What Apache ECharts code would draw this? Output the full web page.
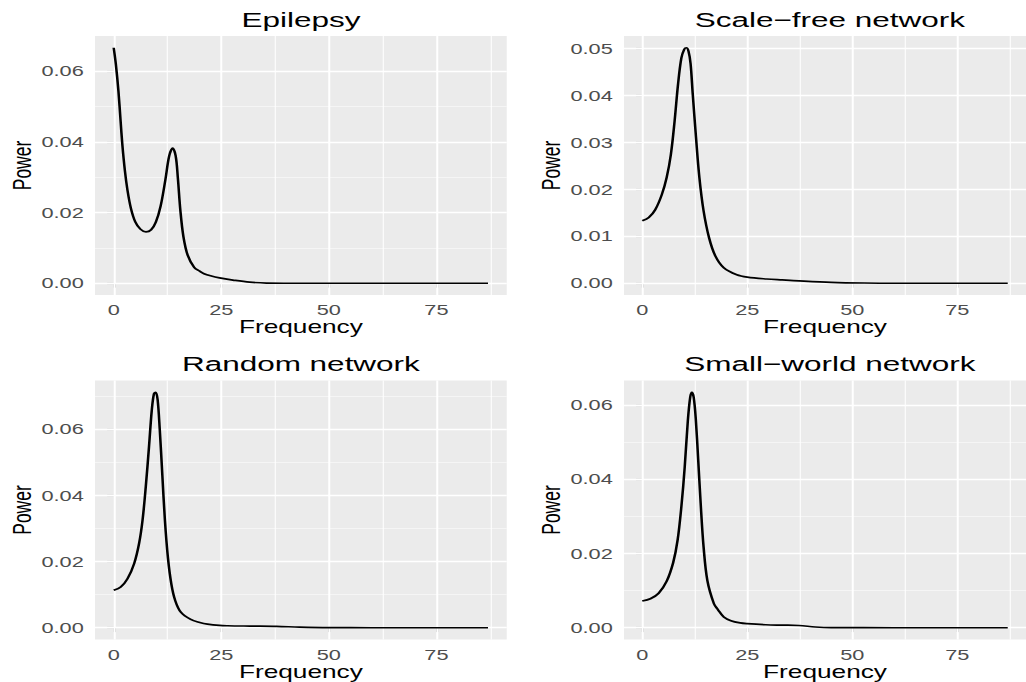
<!DOCTYPE html>
<html><head><meta charset="utf-8">
<script src="https://cdn.jsdelivr.net/npm/echarts@6/dist/echarts.min.js"></script>
<style>
html,body{margin:0;padding:0;overflow:hidden;background:#fff;width:1026px;height:682px}
#wrap{width:1026px;height:682px;overflow:hidden;position:relative}
#chart{width:684px;height:682px;transform:scaleX(1.5);transform-origin:0 0;position:absolute;left:0;top:0}
</style></head><body><div id="wrap"><div id="chart"></div></div>
<script>
// ---- data ----
const panelTitles = ['Epilepsy', 'Scale\u2212free network', 'Random network', 'Small\u2212world network'];

const epilepsyFreq  = [0, 0.5, 1.1, 1.6, 2.0, 2.6, 3.2, 4.0, 5.0, 6.2, 7.5, 8.7, 9.8, 10.9, 12.0, 12.9, 13.7, 14.4, 14.9, 15.5, 16.2, 17.2, 18.7, 20.0, 21.0, 22.5, 24.6, 27.7, 31.6, 35.5, 45, 60, 75, 87];
const epilepsyPower = [0.0666, 0.0619, 0.0543, 0.0459, 0.0393, 0.0318, 0.0263, 0.0212, 0.0174, 0.0153, 0.0145, 0.0151, 0.0173, 0.0218, 0.0292, 0.0360, 0.0382, 0.0360, 0.0299, 0.0205, 0.0132, 0.0079, 0.0045, 0.0034, 0.0027, 0.0021, 0.0015, 0.0009, 0.0003, 0.00005, 0, 0, 0, 0];

const scaleFreeFreq  = [0, 1.55, 3.1, 4.65, 5.8, 6.8, 7.7, 8.5, 9.3, 10.0, 10.5, 11.0, 11.5, 12.0, 12.8, 13.6, 14.6, 15.9, 17.4, 19.4, 22.5, 25.0, 29.6, 33.3, 37.3, 45.0, 52.8, 60, 75, 87];
const scaleFreePower = [0.0133, 0.0140, 0.0157, 0.0189, 0.0225, 0.0274, 0.0346, 0.0423, 0.0480, 0.0499, 0.0502, 0.0495, 0.0468, 0.0405, 0.0310, 0.0225, 0.0154, 0.0097, 0.0058, 0.0033, 0.0018, 0.0013, 0.0009, 0.0007, 0.0005, 0.0002, 0.00005, 0, 0, 0];

const randomFreq  = [0, 1.63, 3.2, 4.75, 5.9, 6.7, 7.45, 8.2, 8.85, 9.35, 9.75, 10.2, 10.7, 11.3, 11.9, 12.6, 13.4, 14.3, 15.6, 17.9, 20.0, 21.8, 24.6, 26.5, 31.6, 37.8, 43.2, 50, 60, 75, 87];
const randomPower = [0.0113, 0.0123, 0.0148, 0.0194, 0.0255, 0.0325, 0.0426, 0.0547, 0.0658, 0.0707, 0.0712, 0.0690, 0.0600, 0.0462, 0.0325, 0.0212, 0.0132, 0.0082, 0.0047, 0.0025, 0.0016, 0.0011, 0.0007, 0.0006, 0.0005, 0.0004, 0.0002, 0.00005, 0, 0, 0];

const smallWorldFreq  = [0, 1.93, 3.9, 5.8, 7.35, 8.4, 9.3, 10.1, 10.85, 11.4, 11.8, 12.25, 12.75, 13.3, 13.9, 14.6, 15.5, 17.05, 18.0, 19.4, 21.1, 23.3, 24.95, 29.4, 33.3, 37.3, 41.2, 45, 60, 75, 87];
const smallWorldPower = [0.0072, 0.0078, 0.0093, 0.0125, 0.0175, 0.0235, 0.0325, 0.0432, 0.0558, 0.0620, 0.0634, 0.0620, 0.0560, 0.0455, 0.0335, 0.0217, 0.0127, 0.0065, 0.0049, 0.0029, 0.0019, 0.0013, 0.0011, 0.0008, 0.0007, 0.0006, 0.0002, 0.00003, 0, 0, 0];

const xTickLabels = [0, 25, 50, 75];
const xMinorBreaks = [12.5, 37.5, 62.5, 87.5];

const epilepsyYTicks = [0, 0.02, 0.04, 0.06];
const epilepsyYMinor = [0.01, 0.03, 0.05];
const scaleFreeYTicks = [0, 0.01, 0.02, 0.03, 0.04, 0.05];
const scaleFreeYMinor = [0.005, 0.015, 0.025, 0.035, 0.045];
const randomYTicks = [0, 0.02, 0.04, 0.06];
const randomYMinor = [0.01, 0.03, 0.05, 0.07];
const smallWorldYTicks = [0, 0.02, 0.04, 0.06];
const smallWorldYMinor = [0.01, 0.03, 0.05];

// ---- layout ----
const FONT = '"Liberation Sans", Arial, Helvetica, sans-serif';
const panels = [
  {title: panelTitles[0], fx: epilepsyFreq,  py: epilepsyPower,  yt: epilepsyYTicks,  ym: epilepsyYMinor,  left: 63.33, top: 36},
  {title: panelTitles[1], fx: scaleFreeFreq, py: scaleFreePower, yt: scaleFreeYTicks, ym: scaleFreeYMinor, left: 416,   top: 36},
  {title: panelTitles[2], fx: randomFreq,    py: randomPower,    yt: randomYTicks,    ym: randomYMinor,    left: 63.33, top: 380.5},
  {title: panelTitles[3], fx: smallWorldFreq,py: smallWorldPower,yt: smallWorldYTicks,ym: smallWorldYMinor,left: 416,   top: 380.5}
];
const PW = 274.5, PH = 259;

function expand(arr) {
  const lo = Math.min(...arr), hi = Math.max(...arr), r = hi - lo;
  return [lo - 0.05 * r, hi + 0.05 * r];
}

const option = {
  animation: false,
  backgroundColor: '#ffffff',
  title: [], grid: [], xAxis: [], yAxis: [], series: []
};

panels.forEach((p, i) => {
  const xr = expand(p.fx), yr = expand(p.py);
  option.title.push({
    text: p.title, left: p.left + PW / 2, top: p.top - 27, textAlign: 'center', padding: 0,
    textStyle: {fontSize: 21, fontWeight: 'normal', color: '#000', fontFamily: FONT}
  });
  option.grid.push({
    left: p.left, top: p.top, width: PW, height: PH, show: true,
    backgroundColor: '#EBEBEB', borderWidth: 0, containLabel: false
  });
  option.xAxis.push({
    type: 'value', gridIndex: i, min: xr[0], max: xr[1],
    splitLine: {show: false}, axisLine: {show: false},
    axisTick: {show: true, customValues: xTickLabels, length: 4.4, lineStyle: {color: '#333333', width: 1.1}},
    axisLabel: {customValues: xTickLabels, margin: 7.5, fontSize: 14.5, color: '#4D4D4D', fontFamily: FONT},
    name: 'Frequency', nameLocation: 'middle', nameGap: 23.5,
    nameTextStyle: {fontSize: 17.5, color: '#000', fontFamily: FONT}
  });
  option.yAxis.push({
    type: 'value', gridIndex: i, min: yr[0], max: yr[1],
    splitLine: {show: false}, axisLine: {show: false},
    axisTick: {show: true, customValues: p.yt, length: 4.4, lineStyle: {color: '#333333', width: 1.1}},
    axisLabel: {customValues: p.yt, margin: 7.5, fontSize: 14.5, color: '#4D4D4D', fontFamily: FONT,
      formatter: v => v.toFixed(2)},
    name: 'Power', nameLocation: 'middle', nameGap: 39,
    nameTextStyle: {fontSize: 17.5, color: '#000', fontFamily: FONT}
  });
  const gl = [];
  p.yt.forEach(v => gl.push({yAxis: v, lineStyle: {color: '#fff', width: 1.35, type: 'solid'}}));
  p.ym.forEach(v => gl.push({yAxis: v, lineStyle: {color: '#fff', width: 0.7, type: 'solid'}}));
  xTickLabels.forEach(v => gl.push({xAxis: v, lineStyle: {color: '#fff', width: 1.35, type: 'solid'}}));
  xMinorBreaks.forEach(v => gl.push({xAxis: v, lineStyle: {color: '#fff', width: 0.7, type: 'solid'}}));
  option.series.push({
    type: 'line', xAxisIndex: i, yAxisIndex: i, z: 3,
    data: p.fx.map((f, k) => [f, p.py[k]]),
    showSymbol: false, smooth: 0.35, clip: true,
    lineStyle: {color: '#000', width: 1.7},
    markLine: {silent: true, z: 1, symbol: ['none', 'none'], label: {show: false},
      emphasis: {disabled: true}, animation: false, data: gl}
  });
});

const chart = echarts.init(document.getElementById('chart'), null, {renderer: 'svg'});
chart.setOption(option);
</script></body></html>
